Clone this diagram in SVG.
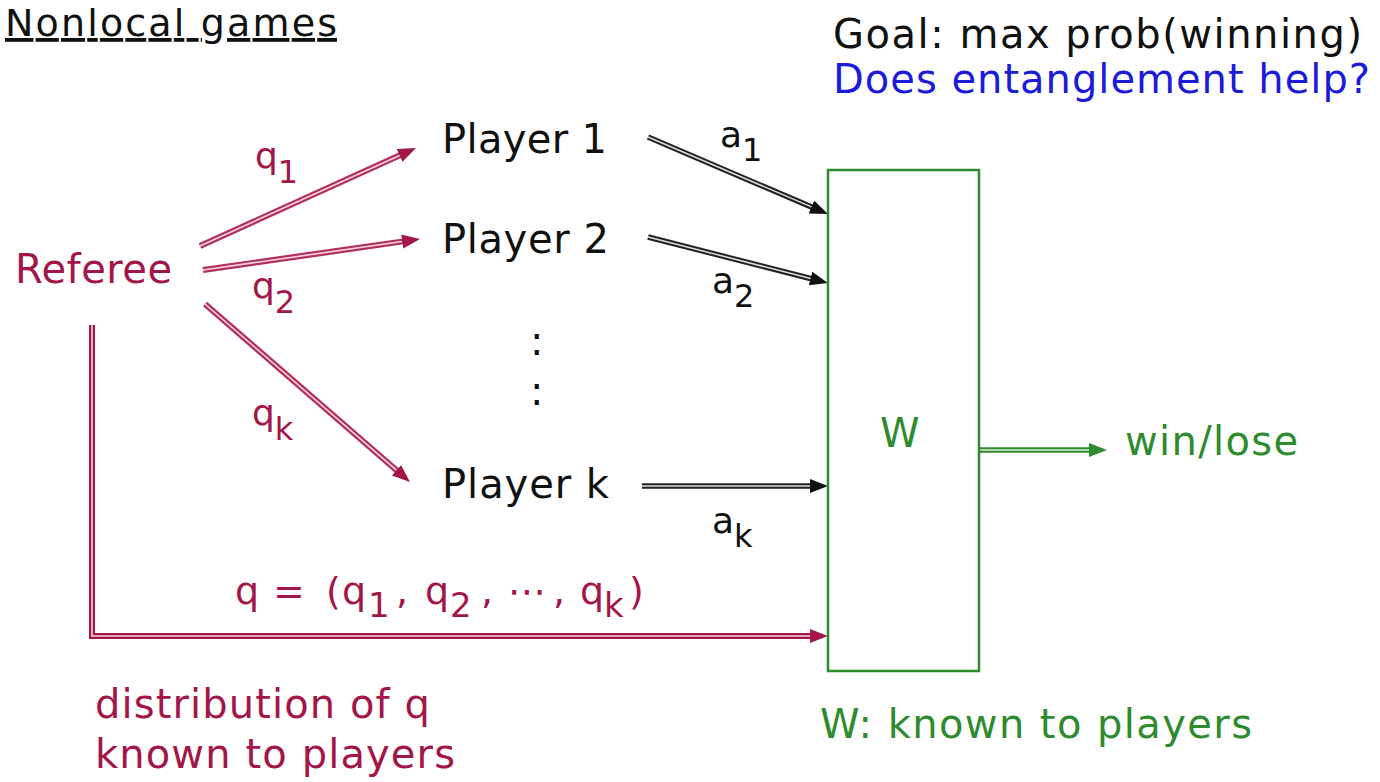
<svg xmlns="http://www.w3.org/2000/svg" width="1380" height="782" viewBox="0 0 1380 782">
<style>
text{font-family:"DejaVu Sans","Liberation Sans",sans-serif;font-size:40px}
.red{fill:#a3164a}
.green{fill:#2e8b2e}
.blue{fill:#1c1cd8}
.blk{fill:#111}
.lbl{font-size:36px}
.sub{font-size:32px}
.ro{stroke:#b3305c;stroke-width:6;fill:none}
.ro2{stroke:#a3164a;stroke-width:6;fill:none}
.ri{stroke:#f4d6df;stroke-width:1.6;fill:none}
.ko{stroke:#222;stroke-width:5.5;fill:none}
.ki{stroke:#ddd;stroke-width:1.5;fill:none}
.go{stroke:#2e8b2e;stroke-width:5.5;fill:none}
.gi{stroke:#d8efd8;stroke-width:1.5;fill:none}
</style>
<defs>
<marker id="mr" markerUnits="userSpaceOnUse" markerWidth="20" markerHeight="16" refX="10" refY="7" orient="auto"><path d="M0,0 L18,7 L0,14 z" fill="#a3164a"/></marker>
<marker id="mk" markerUnits="userSpaceOnUse" markerWidth="20" markerHeight="16" refX="10" refY="7" orient="auto"><path d="M0,0 L18,7 L0,14 z" fill="#111"/></marker>
<marker id="mg" markerUnits="userSpaceOnUse" markerWidth="20" markerHeight="16" refX="10" refY="7" orient="auto"><path d="M0,0 L18,7 L0,14 z" fill="#2e8b2e"/></marker>
</defs>
<rect width="1380" height="782" fill="#fff"/>

<text id="title" x="5" y="36" class="blk" style="font-size:38px" text-decoration="underline" textLength="332">Nonlocal games</text>
<text id="goal" x="833" y="48" class="blk" textLength="529">Goal: max prob(winning)</text>
<text id="question" x="833" y="93" class="blue" textLength="537">Does entanglement help?</text>

<g id="connectors">
<g id="q1-arrow"><line x1="200" y1="246" x2="408.7" y2="151.3" class="ro" marker-end="url(#mr)"/><line x1="200" y1="246" x2="399.6" y2="155.4" class="ri"/></g>
<g id="q2-arrow"><line x1="203" y1="270" x2="412.1" y2="240.1" class="ro" marker-end="url(#mr)"/><line x1="203" y1="270" x2="402.2" y2="241.5" class="ri"/></g>
<g id="qk-arrow"><line x1="205" y1="304" x2="404" y2="476.8" class="ro" marker-end="url(#mr)"/><line x1="205" y1="304" x2="396.4" y2="470.2" class="ri"/></g>
<g id="q-arrow"><path d="M92,325 V636 H820" class="ro2" marker-end="url(#mr)"/><path d="M92,325 V636 H810" class="ri"/></g>
<g id="a1-arrow"><line x1="648" y1="137" x2="820.6" y2="210.9" class="ko" marker-end="url(#mk)"/><line x1="648" y1="137" x2="811.5" y2="206.9" class="ki"/></g>
<g id="a2-arrow"><line x1="648" y1="237" x2="820.2" y2="281" class="ko" marker-end="url(#mk)"/><line x1="648" y1="237" x2="810.6" y2="278.5" class="ki"/></g>
<g id="ak-arrow"><line x1="642" y1="486" x2="820" y2="486" class="ko" marker-end="url(#mk)"/><line x1="642" y1="486" x2="810" y2="486" class="ki"/></g>
<g id="win-arrow"><line x1="980" y1="450" x2="1099" y2="450" class="go" marker-end="url(#mg)"/><line x1="980" y1="450" x2="1089" y2="450" class="gi"/></g>
</g>

<g id="referee"><text x="15" y="283" class="red" textLength="157">Referee</text></g>
<g id="player1"><text x="442" y="153" class="blk" textLength="165">Player 1</text></g>
<g id="player2"><text x="442" y="253" class="blk" textLength="167">Player 2</text></g>
<g id="dots"><text x="530" y="355" class="blk">:</text><text x="530" y="405" class="blk">:</text></g>
<g id="playerk"><text x="442" y="498" class="blk" textLength="167">Player k</text></g>
<g id="W">
<rect x="828" y="170" width="151" height="501" fill="none" stroke="#2e8b2e" stroke-width="2.5"/>
<text x="880" y="447" class="green">W</text>
</g>
<g id="winlose"><text x="1125" y="455" class="green" textLength="173">win/lose</text></g>

<g id="labels">
<text x="255" y="168" class="red lbl">q<tspan class="sub" dy="15">1</tspan></text>
<text x="252" y="298" class="red lbl">q<tspan class="sub" dy="15">2</tspan></text>
<text x="252" y="425" class="red lbl">q<tspan class="sub" dy="15">k</tspan></text>
<text x="720" y="147" class="blk lbl">a<tspan class="sub" dy="14">1</tspan></text>
<text x="712" y="293" class="blk lbl">a<tspan class="sub" dy="14">2</tspan></text>
<text x="712" y="533" class="blk lbl">a<tspan class="sub" dy="14">k</tspan></text>
<text class="red" style="font-size:38px"><tspan x="235" y="604">q</tspan><tspan x="273" y="604">=</tspan><tspan x="326" y="604">(</tspan><tspan x="342" y="604">q</tspan><tspan x="368" y="617" style="font-size:34px">1</tspan><tspan x="396" y="604">,</tspan><tspan x="425" y="604">q</tspan><tspan x="450" y="617" style="font-size:34px">2</tspan><tspan x="481" y="604">,</tspan><tspan x="508" y="604">⋯</tspan><tspan x="553" y="604">,</tspan><tspan x="580" y="604">q</tspan><tspan x="604" y="617" style="font-size:34px">k</tspan><tspan x="629" y="604">)</tspan></text>
</g>

<g id="notes">
<text x="95" y="718" class="red" textLength="335">distribution of q</text>
<text x="95" y="768" class="red" textLength="360">known to players</text>
<text x="820" y="738" class="green" textLength="432">W: known to players</text>
</g>
</svg>
